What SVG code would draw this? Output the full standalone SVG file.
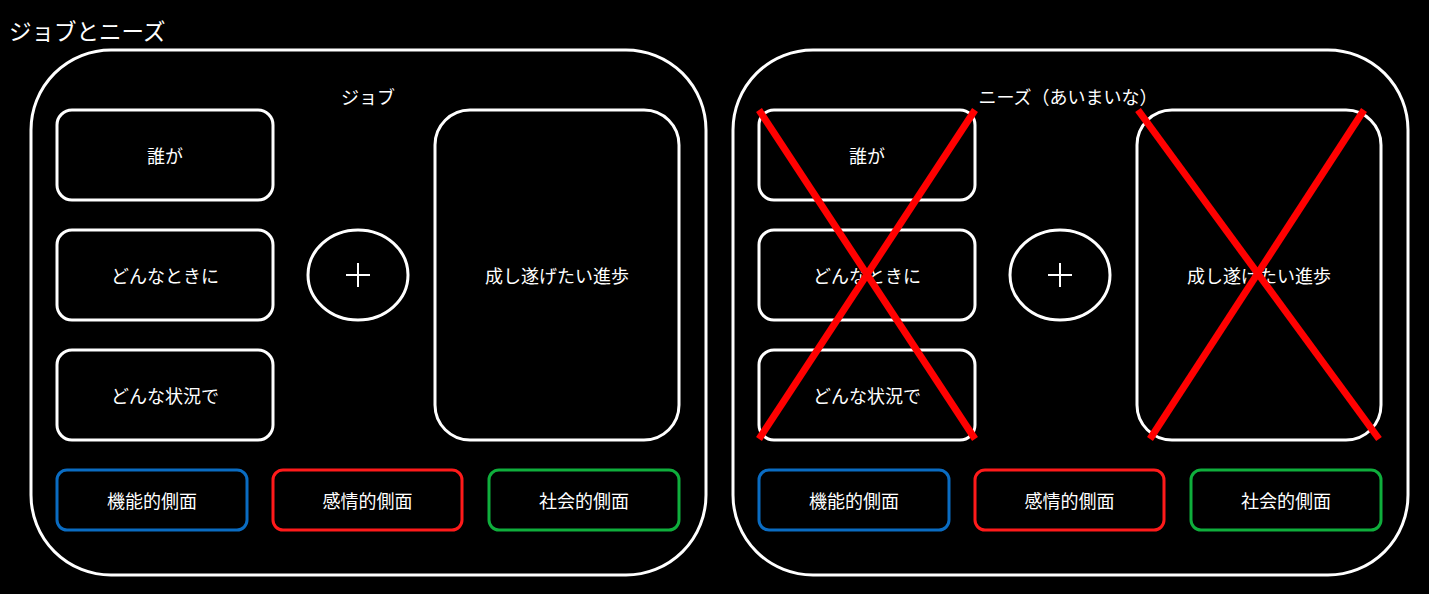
<svg xmlns="http://www.w3.org/2000/svg" width="1429" height="594" viewBox="0 0 1429 594">
<style>
text{font-family:"Noto Sans CJK JP","Noto Sans",sans-serif;fill:#fff;font-size:18px;text-anchor:middle;dominant-baseline:central}
.c{fill:none;stroke:#fff;stroke-width:3}
.b{fill:#000;stroke:#fff;stroke-width:3}
.blue{fill:#000;stroke:#0a6cc2;stroke-width:3}
.red{fill:#000;stroke:#ff1a1a;stroke-width:3}
.green{fill:#000;stroke:#0fae3c;stroke-width:3}
.x{stroke:#ff0000;stroke-width:7}
</style>
<rect width="1429" height="594" fill="#000"/>
<text x="9" y="30" style="text-anchor:start;font-size:22.5px">ジョブとニーズ</text>
<g id="job">
<rect class="c" x="31" y="50" width="675" height="525" rx="80"/>
<text x="368" y="96">ジョブ</text>
<g id="job-who"><rect class="b" x="57" y="110" width="216" height="90" rx="15"/><text x="165" y="155">誰が</text></g>
<g id="job-when"><rect class="b" x="57" y="230" width="216" height="90" rx="15"/><text x="165" y="275">どんなときに</text></g>
<g id="job-situation"><rect class="b" x="57" y="350" width="216" height="90" rx="15"/><text x="165" y="395">どんな状況で</text></g>
<g id="job-plus"><ellipse class="b" cx="358" cy="275" rx="50" ry="45"/><path d="M346 275H370M358 263V287" stroke="#fff" stroke-width="2"/></g>
<g id="job-progress"><rect class="b" x="435" y="110" width="244" height="330" rx="35"/><text x="557" y="275">成し遂げたい進歩</text></g>
<g id="job-func"><rect class="blue" x="57" y="470" width="190" height="60" rx="10"/><text x="152" y="500">機能的側面</text></g>
<g id="job-emo"><rect class="red" x="273" y="470" width="189" height="60" rx="10"/><text x="367.5" y="500">感情的側面</text></g>
<g id="job-soc"><rect class="green" x="489" y="470" width="190" height="60" rx="10"/><text x="584" y="500">社会的側面</text></g>
</g>
<g id="needs">
<rect class="c" x="733" y="50" width="675" height="525" rx="80"/>
<text x="1068" y="96">ニーズ（あいまいな）</text>
<g id="needs-who"><rect class="b" x="759" y="110" width="216" height="90" rx="15"/><text x="867" y="155">誰が</text></g>
<g id="needs-when"><rect class="b" x="759" y="230" width="216" height="90" rx="15"/><text x="867" y="275">どんなときに</text></g>
<g id="needs-situation"><rect class="b" x="759" y="350" width="216" height="90" rx="15"/><text x="867" y="395">どんな状況で</text></g>
<g id="needs-plus"><ellipse class="b" cx="1060" cy="275" rx="50" ry="45"/><path d="M1048 275H1072M1060 263V287" stroke="#fff" stroke-width="2"/></g>
<g id="needs-progress"><rect class="b" x="1137" y="110" width="244" height="330" rx="35"/><text x="1259" y="275">成し遂げたい進歩</text></g>
<g id="needs-func"><rect class="blue" x="759" y="470" width="190" height="60" rx="10"/><text x="854" y="500">機能的側面</text></g>
<g id="needs-emo"><rect class="red" x="975" y="470" width="189" height="60" rx="10"/><text x="1069.5" y="500">感情的側面</text></g>
<g id="needs-soc"><rect class="green" x="1191" y="470" width="190" height="60" rx="10"/><text x="1286" y="500">社会的側面</text></g>
</g>
<g id="connectors">
<line class="x" x1="759" y1="110" x2="975" y2="439"/>
<line class="x" x1="975" y1="110" x2="759" y2="439"/>
<line class="x" x1="1138" y1="110" x2="1379" y2="439"/>
<line class="x" x1="1364" y1="110" x2="1150" y2="439"/>
</g>
</svg>
